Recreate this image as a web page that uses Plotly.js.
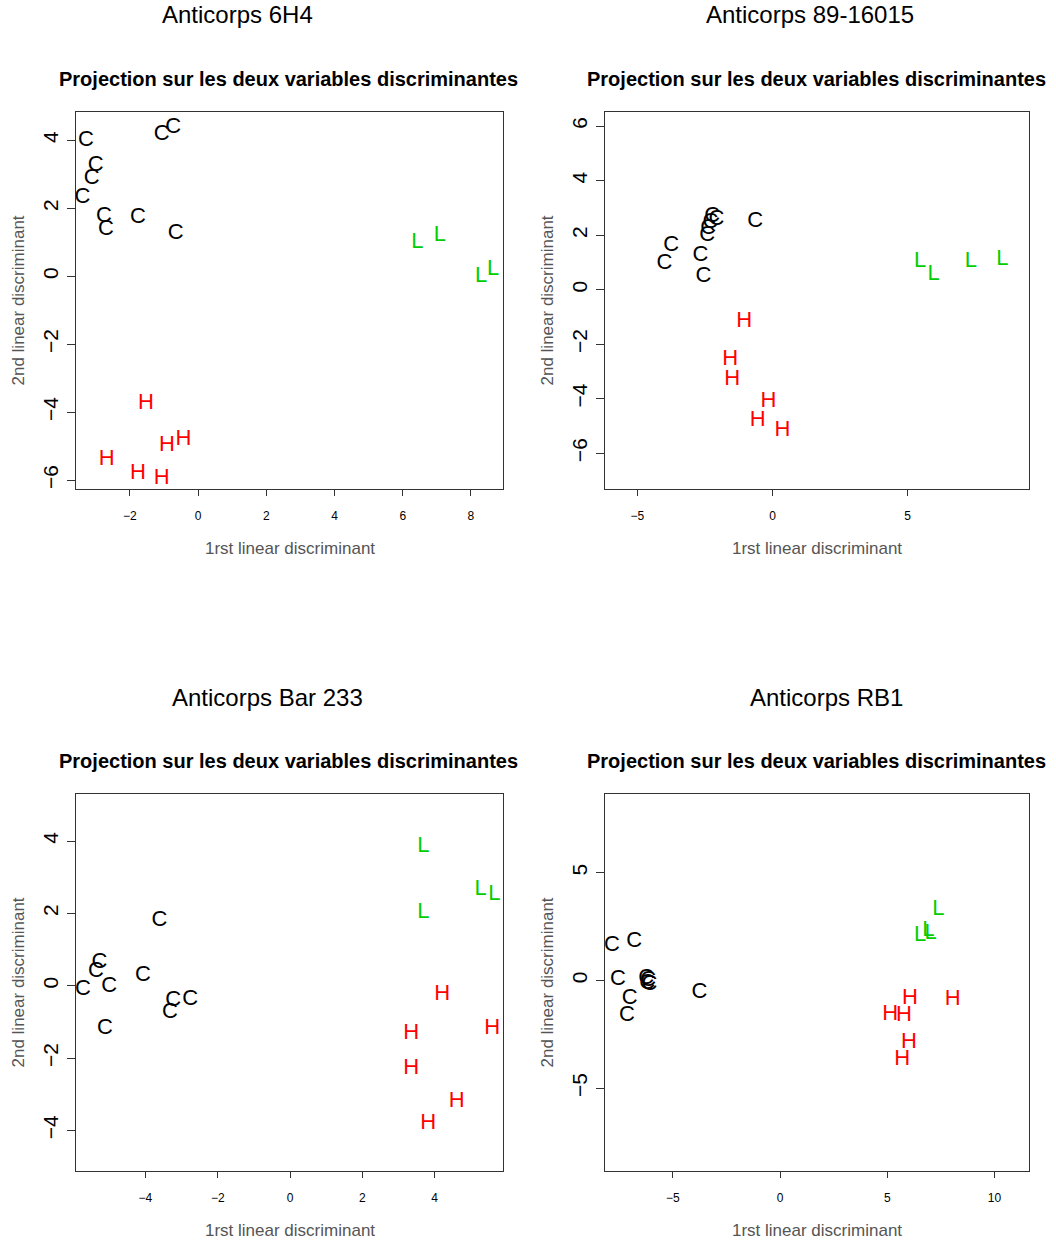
<!DOCTYPE html>
<html>
<head>
<meta charset="utf-8">
<script src="https://cdn.plot.ly/plotly-3.0.1.min.js"></script>
<style>
html,body{margin:0;padding:0;background:#fff;}
#chart{width:1056px;height:1242px;}
</style>
</head>
<body>
<div id="chart"></div>
<script>
// ---- Data ----
const panelTitles = ["Anticorps 6H4", "Anticorps 89-16015", "Anticorps Bar 233", "Anticorps RB1"];
const subTitle = "Projection sur les deux variables discriminantes";
const xLabel = "1rst linear discriminant";
const yLabel = "2nd linear discriminant";
const groupLabels = ["C", "H", "L"];

// Panel 1 : Anticorps 6H4
const p1_C_x = [-3.29, -0.73, -1.07, -3.00, -3.12, -3.39, -2.76, -2.70, -1.76, -0.66];
const p1_C_y = [4.00, 4.38, 4.16, 3.25, 2.86, 2.32, 1.75, 1.38, 1.72, 1.26];
const p1_H_x = [-1.53, -2.68, -1.76, -0.91, -0.43, -1.07];
const p1_H_y = [-3.75, -5.38, -5.80, -4.98, -4.79, -5.94];
const p1_L_x = [6.43, 7.09, 8.30, 8.65];
const p1_L_y = [0.98, 1.21, -0.02, 0.20];

// Panel 2 : Anticorps 89-16015
const p2_C_x = [-0.64, -3.75, -4.00, -2.67, -2.56, -2.23, -2.08, -2.30, -2.38, -2.42];
const p2_C_y = [2.52, 1.62, 0.96, 1.26, 0.49, 2.67, 2.59, 2.45, 2.26, 2.00];
const p2_H_x = [-1.05, -1.57, -1.49, -0.15, -0.55, 0.37];
const p2_H_y = [-1.17, -2.56, -3.31, -4.11, -4.81, -5.15];
const p2_L_x = [5.46, 5.96, 7.34, 8.50];
const p2_L_y = [1.05, 0.57, 1.03, 1.11];

// Panel 3 : Anticorps Bar 233
const p3_C_x = [-3.61, -5.27, -5.37, -5.73, -5.00, -4.07, -3.23, -3.32, -2.76, -5.12];
const p3_C_y = [1.80, 0.64, 0.39, -0.10, -0.03, 0.27, -0.40, -0.75, -0.37, -1.18];
const p3_H_x = [4.21, 3.35, 5.59, 3.35, 4.61, 3.82];
const p3_H_y = [-0.23, -1.32, -1.18, -2.29, -3.21, -3.81];
const p3_L_x = [3.69, 3.69, 5.27, 5.65];
const p3_L_y = [3.86, 2.02, 2.66, 2.51];

// Panel 4 : Anticorps RB1
const p4_C_x = [-7.85, -6.81, -7.57, -7.02, -7.15, -3.76, -6.25, -6.15, -6.20, -6.10];
const p4_C_y = [1.61, 1.80, 0.05, -0.84, -1.61, -0.57, 0.10, 0.00, -0.15, -0.20];
const p4_H_x = [6.06, 8.05, 5.13, 5.78, 6.01, 5.69];
const p4_H_y = [-0.84, -0.88, -1.58, -1.61, -2.88, -3.65];
const p4_L_x = [7.38, 6.53, 6.92, 7.02];
const p4_L_y = [3.30, 2.09, 2.30, 2.20];

// Axis ranges and tick steps
const xRanges = [[-3.58, 8.94], [-6.20, 9.49], [-5.92, 5.89], [-8.17, 11.61]];
const yRanges = [[-6.26, 4.83], [-7.31, 6.52], [-5.12, 5.30], [-8.84, 8.65]];
const xSteps = [2, 5, 2, 5];
const ySteps = [2, 2, 2, 5];

// ---- Styling / layout ----
const W = 1056, H = 1242;
const FONT = "Liberation Sans, Arial, Helvetica, sans-serif";
const groupColors = {C: "#000000", H: "#ff0000", L: "#00cd00"};

const panelData = [
  {C: [p1_C_x, p1_C_y], H: [p1_H_x, p1_H_y], L: [p1_L_x, p1_L_y]},
  {C: [p2_C_x, p2_C_y], H: [p2_H_x, p2_H_y], L: [p2_L_x, p2_L_y]},
  {C: [p3_C_x, p3_C_y], H: [p3_H_x, p3_H_y], L: [p3_L_x, p3_L_y]},
  {C: [p4_C_x, p4_C_y], H: [p4_H_x, p4_H_y], L: [p4_L_x, p4_L_y]}
];

// plot boxes in pixels: [left, right, top, bottom]
const boxes = [
  [76, 503, 112, 489],
  [605, 1029, 112, 489],
  [76, 503, 794, 1171],
  [605, 1029, 794, 1171]
];
const titlePos = [[237, 14], [810, 14], [267, 697], [826, 697]];

const px = v => v / W;
const py = v => 1 - v / H;

const traces = [];
const layout = {
  width: W, height: H,
  margin: {l: 0, r: 0, t: 0, b: 0},
  paper_bgcolor: "#ffffff",
  plot_bgcolor: "#ffffff",
  showlegend: false,
  font: {family: FONT, color: "#000"},
  annotations: []
};

for (let i = 0; i < 4; i++) {
  const n = i + 1;
  const xa = "x" + (n === 1 ? "" : n);
  const ya = "y" + (n === 1 ? "" : n);
  const [l, r, t, b] = boxes[i];

  groupLabels.forEach(g => {
    const [xs, ys] = panelData[i][g];
    traces.push({
      type: "scatter", mode: "text",
      x: xs, y: ys,
      text: xs.map(() => g),
      textposition: "middle center",
      textfont: {family: FONT, size: 22, color: groupColors[g]},
      xaxis: xa, yaxis: ya,
      hoverinfo: "skip", cliponaxis: false
    });
  });

  layout["xaxis" + (n === 1 ? "" : n)] = {
    domain: [px(l), px(r)],
    anchor: ya,
    range: xRanges[i],
    tick0: 0, dtick: xSteps[i],
    ticks: "outside", ticklen: 6, tickwidth: 1, tickcolor: "#333",
    showline: true, mirror: true, linecolor: "#333", linewidth: 1,
    showgrid: false, zeroline: false,
    tickfont: {family: FONT, size: 12, color: "#000"},
    ticklabelstandoff: 10
  };
  layout["yaxis" + (n === 1 ? "" : n)] = {
    domain: [py(b), py(t)],
    anchor: xa,
    range: yRanges[i],
    tick0: 0, dtick: ySteps[i],
    ticks: "outside", ticklen: 8, tickwidth: 1, tickcolor: "#333",
    showline: true, mirror: true, linecolor: "#333", linewidth: 1,
    showgrid: false, zeroline: false,
    tickangle: -90,
    tickfont: {family: FONT, size: 21, color: "#000"},
    ticklabelstandoff: 1
  };

  // main panel title
  layout.annotations.push({
    xref: "paper", yref: "paper",
    x: px(titlePos[i][0]), y: py(titlePos[i][1]),
    xanchor: "center", yanchor: "middle",
    text: panelTitles[i], showarrow: false,
    font: {family: FONT, size: 24, color: "#000"}
  });
  // bold subtitle
  layout.annotations.push({
    xref: "paper", yref: "paper",
    x: px((l + r) / 2 - 1), y: py(t - 33),
    xanchor: "center", yanchor: "middle",
    text: "<b>" + subTitle + "</b>", showarrow: false,
    font: {family: FONT, size: 20, color: "#000"}
  });
  // x axis title
  layout.annotations.push({
    xref: "paper", yref: "paper",
    x: px((l + r) / 2), y: py(b + 59),
    xanchor: "center", yanchor: "middle",
    text: xLabel, showarrow: false,
    font: {family: FONT, size: 17, color: "#555"}
  });
  // y axis title
  layout.annotations.push({
    xref: "paper", yref: "paper",
    x: px(l - 58), y: py((t + b) / 2),
    xanchor: "center", yanchor: "middle",
    textangle: -90,
    text: yLabel, showarrow: false,
    font: {family: FONT, size: 17, color: "#555"}
  });
}

Plotly.newPlot("chart", traces, layout, {staticPlot: true, displayModeBar: false});
</script>
</body>
</html>
